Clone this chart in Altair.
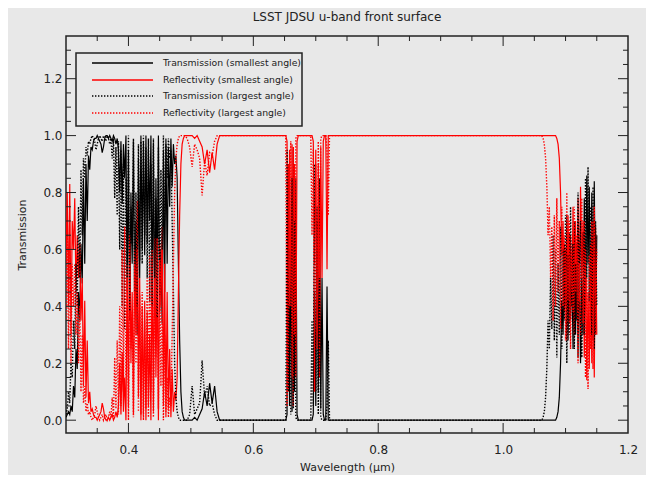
import altair as alt
import pandas as pd

# ---------------- data ----------------
# Segment A: 0.300 - 0.490 um (dense fringes)
wl_a = [0.300,0.302,0.304,0.306,0.308,0.310,0.312,0.314,0.316,0.318,
        0.320,0.322,0.324,0.326,0.328,0.330,0.332,0.334,0.336,0.338,
        0.340,0.342,0.344,0.346,0.348,0.350,0.352,0.354,0.356,0.358,
        0.360,0.362,0.364,0.366,0.368,0.370,0.372,0.374,0.376,0.378,
        0.380,0.382,0.384,0.386,0.388,0.390,0.392,0.394,0.396,0.398,
        0.400,0.402,0.404,0.406,0.408,0.410,0.412,0.414,0.416,0.418,
        0.420,0.422,0.424,0.426,0.428,0.430,0.432,0.434,0.436,0.438,
        0.440,0.442,0.444,0.446,0.448,0.450,0.452,0.454,0.456,0.458,
        0.460,0.462,0.464,0.466,0.468,0.470,0.472,0.474,0.476,0.478,
        0.480,0.482,0.484,0.486,0.488,0.490]
ts_a = [0.01,0.02,0.03,0.02,0.05,0.03,0.12,0.08,0.25,0.18,
        0.45,0.35,0.62,0.48,0.85,0.55,0.90,0.70,0.93,0.88,
        0.96,0.95,0.98,0.99,0.99,1.00,0.99,0.98,0.97,0.94,
        0.96,0.99,1.00,1.00,0.99,1.00,0.99,0.98,1.00,0.99,
        0.97,0.99,0.95,0.80,0.98,0.76,0.97,0.85,1.00,0.45,
        0.95,0.35,0.80,0.55,0.98,0.40,0.70,0.30,0.92,0.50,
        1.00,0.60,0.98,0.58,1.00,0.62,0.95,0.70,1.00,0.42,
        0.97,0.36,0.85,0.48,1.00,0.38,0.60,0.34,0.95,0.45,
        0.99,0.55,0.96,0.75,0.99,0.82,0.97,0.90,0.93,0.85,
        0.55,0.28,0.10,0.03,0.01,0.00]
rs_a = [0.55,0.80,0.40,0.83,0.30,0.70,0.60,0.78,0.45,0.65,
        0.50,0.62,0.35,0.50,0.12,0.42,0.08,0.28,0.06,0.10,
        0.03,0.04,0.02,0.01,0.01,0.00,0.01,0.02,0.03,0.06,
        0.04,0.01,0.00,0.00,0.01,0.00,0.01,0.02,0.00,0.01,
        0.03,0.01,0.05,0.20,0.02,0.24,0.03,0.15,0.00,0.55,
        0.05,0.65,0.20,0.45,0.02,0.60,0.30,0.77,0.08,0.50,
        0.00,0.40,0.02,0.42,0.00,0.38,0.05,0.30,0.00,0.58,
        0.03,0.64,0.15,0.52,0.00,0.62,0.40,0.68,0.05,0.55,
        0.01,0.45,0.04,0.25,0.01,0.18,0.03,0.10,0.07,0.15,
        0.45,0.72,0.90,0.97,0.99,1.00]
tl_a = [0.02,0.04,0.10,0.06,0.20,0.15,0.35,0.25,0.55,0.40,
        0.75,0.50,0.88,0.65,0.92,0.85,0.96,0.93,0.98,0.97,
        0.99,1.00,0.99,0.98,0.95,0.97,0.99,1.00,0.99,0.98,
        1.00,0.99,0.98,1.00,0.99,0.97,0.99,0.92,0.99,0.78,
        0.96,0.72,0.98,0.60,0.95,0.40,0.90,0.32,0.85,0.50,
        1.00,0.38,0.75,0.62,0.99,0.45,0.80,0.40,0.97,0.56,
        0.98,0.55,1.00,0.65,0.96,0.50,0.99,0.42,0.90,0.40,
        0.99,0.50,0.78,0.36,0.96,0.44,0.88,0.60,1.00,0.70,
        0.97,0.85,0.99,0.92,0.95,0.70,0.45,0.20,0.08,0.03,
        0.01,0.00,0.00,0.00,0.00,0.00]
rl_a = [0.35,0.70,0.25,0.60,0.20,0.55,0.40,0.55,0.30,0.45,
        0.20,0.40,0.10,0.30,0.06,0.12,0.03,0.06,0.02,0.03,
        0.01,0.00,0.01,0.02,0.05,0.03,0.01,0.00,0.01,0.02,
        0.00,0.01,0.02,0.00,0.01,0.03,0.01,0.08,0.01,0.22,
        0.04,0.28,0.02,0.40,0.05,0.60,0.10,0.68,0.15,0.50,
        0.00,0.62,0.25,0.38,0.01,0.55,0.20,0.60,0.03,0.44,
        0.02,0.45,0.00,0.35,0.04,0.50,0.01,0.58,0.10,0.60,
        0.01,0.50,0.22,0.64,0.04,0.56,0.12,0.40,0.00,0.30,
        0.03,0.15,0.01,0.08,0.05,0.30,0.55,0.80,0.92,0.97,
        0.99,1.00,1.00,1.00,1.00,1.00]

# Segment B: 0.494 - 0.546 um (small leaks)
wl_b = [0.494,0.498,0.502,0.506,0.510,0.514,0.518,0.522,0.526,0.530,0.534,0.538,0.542,0.546]
ts_b = [0.00,0.00,0.00,0.01,0.00,0.02,0.04,0.10,0.05,0.13,0.06,0.12,0.03,0.00]
rs_b = [1.00,1.00,1.00,0.99,1.00,0.98,0.96,0.90,0.95,0.87,0.94,0.88,0.97,1.00]
tl_b = [0.00,0.02,0.12,0.02,0.04,0.06,0.21,0.08,0.12,0.05,0.06,0.02,0.00,0.00]
rl_b = [0.99,0.96,0.89,0.97,0.95,0.92,0.79,0.91,0.86,0.94,0.93,0.98,1.00,1.00]

# Segment C: flat blocking
wl_c = [0.560,0.600,0.640]
ts_c = [0.00,0.00,0.00]
rs_c = [1.00,1.00,1.00]
tl_c = [0.00,0.00,0.00]
rl_c = [1.00,1.00,1.00]

# Segment D: 0.650 - 0.730 um (narrow spikes)
wl_d = [0.650,0.652,0.654,0.656,0.658,0.660,0.662,0.664,0.666,0.668,0.670,
        0.672,0.674,0.676,0.678,0.680,0.682,0.684,0.686,0.688,0.690,0.692,
        0.694,0.696,0.698,0.700,0.702,0.704,0.706,0.708,0.710,0.712,0.714,0.716,0.718,0.720,
        0.722,0.724,0.726,0.728,0.730]
ts_d = [0.00,0.00,0.02,0.90,0.05,0.60,0.03,0.95,0.10,0.85,0.02,
        0,0,0,0,0,0,0,0,0,0,0,
        0.00,0.02,0.45,0.05,0.70,0.10,0.85,0.04,0.50,0.02,0.00,0.00,0.47,0.00,
        0,0,0,0,0]
rs_d = [1.00,1.00,0.98,0.10,0.95,0.40,0.97,0.05,0.90,0.15,0.98,
        1,1,1,1,1,1,1,1,1,1,1,
        1.00,0.98,0.55,0.95,0.30,0.90,0.15,0.96,0.50,0.98,1.00,1.00,0.53,1.00,
        1,1,1,1,1]
tl_d = [0.00,0.00,0.95,0.10,0.60,0.02,0.85,0.04,0.70,0.01,0.00,
        0,0,0,0,0,0,0,0,0,0,0,
        0.35,0.05,0.90,0.10,0.75,0.02,0.50,0.01,0.00,0.00,0.00,0.00,0.05,0.28,
        0,0,0,0,0]
rl_d = [1.00,1.00,0.05,0.90,0.40,0.98,0.15,0.96,0.30,0.99,1.00,
        1,1,1,1,1,1,1,1,1,1,1,
        0.65,0.95,0.10,0.90,0.25,0.98,0.50,0.99,1.00,1.00,1.00,1.00,0.95,0.72,
        1,1,1,1,1]

# Segment E: flat blocking
wl_e = [0.740,0.800,0.900,1.000,1.040,1.050]
ts_e = [0.00,0.00,0.00,0.00,0.00,0.00]
rs_e = [1.00,1.00,1.00,1.00,1.00,1.00]
tl_e = [0.00,0.00,0.00,0.00,0.00,0.00]
rl_e = [1.00,1.00,1.00,1.00,1.00,1.00]

# Segment F: 1.056 - 1.150 um (red edge)
wl_f = [1.056,1.058,1.060,1.062,1.064,1.066,1.068,1.070,1.072,1.074,
        1.076,1.078,1.080,1.082,1.084,1.086,1.088,1.090,1.092,1.094,
        1.096,1.098,1.100,1.102,1.104,1.106,1.108,1.110,1.112,1.114,
        1.116,1.118,1.120,1.122,1.124,1.126,1.128,1.130,1.132,1.134,
        1.136,1.138,1.140,1.142,1.144,1.146,1.148,1.150]
ts_f = [0,0,0,0,0,0,0,0,0,0,
        0,0,0,0,0,0.01,0.03,0.08,0.20,0.42,
        0.30,0.62,0.40,0.72,0.28,0.66,0.35,0.55,0.25,0.70,
        0.30,0.62,0.22,0.58,0.20,0.50,0.30,0.78,0.40,0.86,
        0.55,0.82,0.35,0.80,0.28,0.84,0.30,0.65]
rs_f = [1,1,1,1,1,1,1,1,1,1,
        1,1,1,1,1,0.99,0.97,0.92,0.80,0.58,
        0.70,0.38,0.60,0.28,0.72,0.34,0.65,0.45,0.75,0.30,
        0.70,0.38,0.78,0.42,0.82,0.50,0.70,0.22,0.60,0.14,
        0.45,0.18,0.62,0.20,0.70,0.15,0.68,0.30]
tl_f = [0,0,0,0,0.01,0.03,0.08,0.18,0.35,0.25,
        0.50,0.32,0.65,0.28,0.60,0.22,0.55,0.30,0.68,0.25,
        0.60,0.35,0.72,0.20,0.58,0.30,0.75,0.40,0.62,0.25,
        0.55,0.35,0.80,0.45,0.70,0.22,0.66,0.30,0.85,0.50,
        0.89,0.42,0.75,0.30,0.82,0.25,0.70,0.40]
rl_f = [1,1,1,1,0.99,0.97,0.92,0.82,0.65,0.75,
        0.50,0.68,0.35,0.72,0.40,0.78,0.45,0.70,0.32,0.75,
        0.40,0.65,0.28,0.80,0.42,0.70,0.25,0.60,0.38,0.75,
        0.45,0.65,0.20,0.55,0.30,0.78,0.34,0.70,0.15,0.50,
        0.11,0.58,0.25,0.70,0.18,0.75,0.30,0.60]

series_labels = ["Transmission (smallest angle)", "Reflectivity (smallest angle)",
                 "Transmission (largest angle)", "Reflectivity (largest angle)"]

x_major = [0.4, 0.6, 0.8, 1.0, 1.2]
x_minor = [0.35, 0.45, 0.5, 0.55, 0.65, 0.7, 0.75, 0.85, 0.9, 0.95, 1.05, 1.1, 1.15]
y_major = [0.0, 0.2, 0.4, 0.6, 0.8, 1.0, 1.2]
y_minor = [0.05, 0.1, 0.15, 0.25, 0.3, 0.35, 0.45, 0.5, 0.55, 0.65, 0.7, 0.75,
           0.85, 0.9, 0.95, 1.05, 1.1, 1.15, 1.25, 1.3]

# ---------------- chart ----------------
W, H = 562, 397
BG = "#e8e8e8"
FONT = "DejaVu Sans"
INK = "#222222"

wl = wl_a + wl_b + wl_c + wl_d + wl_e + wl_f
ts = ts_a + ts_b + ts_c + ts_d + ts_e + ts_f
rs = rs_a + rs_b + rs_c + rs_d + rs_e + rs_f
tl = tl_a + tl_b + tl_c + tl_d + tl_e + tl_f
rl = rl_a + rl_b + rl_c + rl_d + rl_e + rl_f
for arr in (ts, rs, tl, rl):
    assert len(arr) == len(wl)

xs = alt.Scale(domain=[0.3, 1.2], nice=False, zero=False)
ys = alt.Scale(domain=[-0.045, 1.35], nice=False, zero=False)

x_axis = alt.Axis(values=x_major, format=".1f", ticks=False, domain=False, grid=False,
                  labelFlush=False, labelOverlap=False, labelPadding=11,
                  labelFont=FONT, labelFontSize=12, labelColor=INK,
                  title="Wavelength (µm)", titleFont=FONT, titleFontSize=11,
                  titleFontWeight="normal", titleColor=INK,
                  titleX=W / 2, titleY=34, titleAlign="center", titleBaseline="middle")
y_axis = alt.Axis(values=y_major, format=".1f", ticks=False, domain=False, grid=False,
                  labelOverlap=False, labelPadding=4,
                  labelFont=FONT, labelFontSize=12, labelColor=INK,
                  title="Transmission", titleFont=FONT, titleFontSize=11,
                  titleFontWeight="normal", titleColor=INK, titleAngle=270,
                  titleX=-44, titleY=H / 2, titleAlign="center", titleBaseline="middle")

X = lambda f: alt.X(f, scale=xs, axis=x_axis)
Y = lambda f: alt.Y(f, scale=ys, axis=y_axis)


def line(vals, color, dash):
    df = pd.DataFrame({"wl": wl, "v": vals})
    kw = dict(color=color, strokeWidth=1.2, clip=True)
    if dash:
        kw["strokeDash"] = dash
        kw["strokeWidth"] = 1.4
    return alt.Chart(df).mark_line(**kw).encode(x=X("wl:Q"), y=Y("v:Q"))


lines = [
    line(ts, "#000000", None),
    line(rs, "#ff0000", None),
    line(tl, "#000000", [1.4, 1.6]),
    line(rl, "#ff0000", [1.4, 1.6]),
]


def xticks(vals, length):
    df = pd.DataFrame({"wl": vals})
    base = alt.Chart(df).mark_rule(color=INK, strokeWidth=1)
    bot = base.encode(x=X("wl:Q"), y=alt.value(H), y2=alt.value(H - length))
    top = base.encode(x=X("wl:Q"), y=alt.value(0), y2=alt.value(length))
    return [bot, top]


def yticks(vals, length):
    df = pd.DataFrame({"v": vals})
    base = alt.Chart(df).mark_rule(color=INK, strokeWidth=1)
    left = base.encode(y=Y("v:Q"), x=alt.value(0), x2=alt.value(length))
    right = base.encode(y=Y("v:Q"), x=alt.value(W), x2=alt.value(W - length))
    return [left, right]


ticks = xticks(x_major[:-1], 10) + xticks(x_minor, 5) + yticks(y_major, 10) + yticks(y_minor, 5)

# legend box
one = pd.DataFrame({"a": [0]})
legend_box = alt.Chart(one).mark_rect(fill=BG, stroke=INK, strokeWidth=1.5).encode(
    x=alt.value(10), x2=alt.value(236), y=alt.value(17), y2=alt.value(90))
legend_rows = [27, 44, 60, 77]
legend_colors = ["#000000", "#ff0000", "#000000", "#ff0000"]
legend_dash = [None, None, [1.4, 1.6], [1.4, 1.6]]
legend_layers = [legend_box]
for lab, yy, col, dsh in zip(series_labels, legend_rows, legend_colors, legend_dash):
    kw = dict(color=col, strokeWidth=1.5)
    if dsh:
        kw["strokeDash"] = dsh
    legend_layers.append(alt.Chart(one).mark_rule(**kw).encode(
        x=alt.value(26), x2=alt.value(87), y=alt.value(yy)))
    legend_layers.append(alt.Chart(one).mark_text(
        text=lab, align="left", baseline="middle", font=FONT, fontSize=9.3, color=INK).encode(
        x=alt.value(97), y=alt.value(yy)))

chart = alt.layer(*lines, *ticks, *legend_layers).properties(
    width=W, height=H,
    title=alt.TitleParams("LSST JDSU u-band front surface", font=FONT, fontSize=12,
                          fontWeight="normal", color=INK, anchor="middle", offset=12),
    background=BG,
    padding={"left": 58, "top": 28, "right": 18, "bottom": 42},
    autosize=alt.AutoSizeParams(type="none"),
).configure_view(stroke=INK, strokeWidth=1.5, fill=BG)

chart.save("out.html", embed_options={"renderer": "svg", "actions": False})
